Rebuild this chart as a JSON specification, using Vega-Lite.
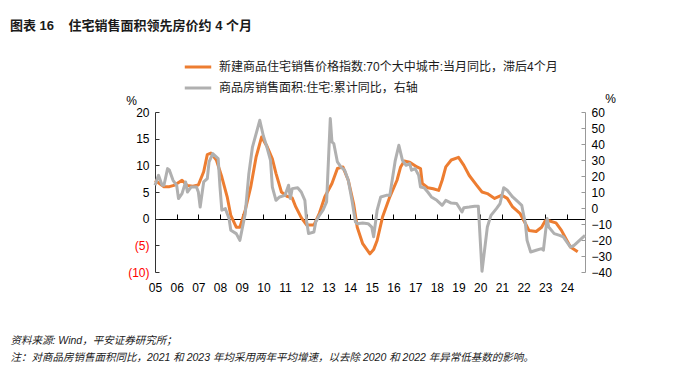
{
  "$schema": "https://vega.github.io/schema/vega-lite/v6.json",
  "width": 430,
  "height": 160,
  "autosize": "none",
  "padding": {"left": 155, "top": 112, "right": 115, "bottom": 108},
  "background": "white",
  "config": {
    "view": {"stroke": null},
    "font": "Liberation Sans, Noto Sans CJK SC",
    "axis": {"grid": false, "labelFont": "Liberation Sans, Noto Sans CJK SC", "labelFontSize": 12, "labelColor": "#000000", "titleFont": "Liberation Sans, Noto Sans CJK SC"},
    "legend": {"labelFont": "Liberation Sans, Noto Sans CJK SC"}
  },
  "title": {
    "text": "图表 16\u00a0\u00a0\u00a0 住宅销售面积领先房价约 4 个月",
    "anchor": "start",
    "frame": "group",
    "dx": -145,
    "offset": 13,
    "fontSize": 13,
    "fontWeight": "bold",
    "font": "Liberation Sans, Noto Sans CJK SC",
    "color": "#1a1a1a",
    "baseline": "middle"
  },
  "datasets": {
    "price": [
      {"date": "2005-01-01", "value": 7.2},
      {"date": "2005-06-01", "value": 6.0},
      {"date": "2005-09-01", "value": 6.0},
      {"date": "2005-12-01", "value": 6.3},
      {"date": "2006-04-01", "value": 7.2},
      {"date": "2006-07-01", "value": 6.2},
      {"date": "2006-10-01", "value": 6.1},
      {"date": "2007-01-01", "value": 6.3},
      {"date": "2007-04-01", "value": 8.8},
      {"date": "2007-06-01", "value": 12.0},
      {"date": "2007-08-01", "value": 12.3},
      {"date": "2007-11-01", "value": 11.0},
      {"date": "2008-02-01", "value": 7.8},
      {"date": "2008-05-01", "value": 4.1},
      {"date": "2008-07-01", "value": 0.6},
      {"date": "2008-10-01", "value": -1.6},
      {"date": "2008-12-01", "value": -1.6},
      {"date": "2009-03-01", "value": 1.6},
      {"date": "2009-06-01", "value": 5.9},
      {"date": "2009-09-01", "value": 11.6},
      {"date": "2009-12-01", "value": 15.3},
      {"date": "2010-03-01", "value": 13.6},
      {"date": "2010-06-01", "value": 11.2},
      {"date": "2010-08-01", "value": 8.5},
      {"date": "2010-11-01", "value": 5.0},
      {"date": "2011-02-01", "value": 4.2},
      {"date": "2011-05-01", "value": 3.9},
      {"date": "2011-07-01", "value": 2.2},
      {"date": "2011-10-01", "value": 0.2},
      {"date": "2012-01-01", "value": -1.2},
      {"date": "2012-05-01", "value": -1.2},
      {"date": "2012-08-01", "value": 1.0},
      {"date": "2012-11-01", "value": 4.1},
      {"date": "2013-03-01", "value": 6.6},
      {"date": "2013-06-01", "value": 9.4},
      {"date": "2013-09-01", "value": 9.7},
      {"date": "2013-12-01", "value": 7.2},
      {"date": "2014-03-01", "value": 2.8},
      {"date": "2014-05-01", "value": -1.6},
      {"date": "2014-08-01", "value": -4.7},
      {"date": "2014-12-01", "value": -6.6},
      {"date": "2015-02-01", "value": -5.8},
      {"date": "2015-04-01", "value": -4.1},
      {"date": "2015-07-01", "value": 0.3},
      {"date": "2015-11-01", "value": 4.1},
      {"date": "2016-03-01", "value": 7.2},
      {"date": "2016-05-01", "value": 9.7},
      {"date": "2016-07-01", "value": 10.8},
      {"date": "2016-10-01", "value": 10.6},
      {"date": "2017-02-01", "value": 9.7},
      {"date": "2017-04-01", "value": 9.4},
      {"date": "2017-05-01", "value": 6.6},
      {"date": "2017-08-01", "value": 5.8},
      {"date": "2017-11-01", "value": 5.6},
      {"date": "2018-02-01", "value": 5.3},
      {"date": "2018-04-01", "value": 7.2},
      {"date": "2018-06-01", "value": 9.7},
      {"date": "2018-09-01", "value": 11.0},
      {"date": "2019-01-01", "value": 11.5},
      {"date": "2019-04-01", "value": 10.0},
      {"date": "2019-07-01", "value": 8.1},
      {"date": "2019-11-01", "value": 6.3},
      {"date": "2020-02-01", "value": 5.0},
      {"date": "2020-05-01", "value": 4.7},
      {"date": "2020-09-01", "value": 3.8},
      {"date": "2021-01-01", "value": 4.4},
      {"date": "2021-04-01", "value": 3.8},
      {"date": "2021-07-01", "value": 2.2},
      {"date": "2021-11-01", "value": 1.0},
      {"date": "2022-02-01", "value": -0.9},
      {"date": "2022-04-01", "value": -2.2},
      {"date": "2022-08-01", "value": -2.4},
      {"date": "2022-11-01", "value": -1.6},
      {"date": "2023-01-01", "value": -0.4},
      {"date": "2023-03-01", "value": -0.4},
      {"date": "2023-07-01", "value": -0.8},
      {"date": "2023-10-01", "value": -2.2},
      {"date": "2024-01-01", "value": -4.1},
      {"date": "2024-03-01", "value": -5.3},
      {"date": "2024-07-01", "value": -6.2}
    ],
    "area": [
      {"date": "2005-01-01", "value": 14.2},
      {"date": "2005-03-01", "value": 20.4},
      {"date": "2005-05-01", "value": 14.2},
      {"date": "2005-06-01", "value": 14.2},
      {"date": "2005-08-01", "value": 24.6},
      {"date": "2005-09-01", "value": 23.6},
      {"date": "2005-11-01", "value": 17.3},
      {"date": "2006-01-01", "value": 14.2},
      {"date": "2006-02-01", "value": 5.9},
      {"date": "2006-04-01", "value": 9.0},
      {"date": "2006-06-01", "value": 16.3},
      {"date": "2006-07-01", "value": 10.0},
      {"date": "2006-09-01", "value": 13.1},
      {"date": "2006-12-01", "value": 13.1},
      {"date": "2007-01-01", "value": 10.0},
      {"date": "2007-02-01", "value": 0.6},
      {"date": "2007-04-01", "value": 16.3},
      {"date": "2007-06-01", "value": 18.4},
      {"date": "2007-07-01", "value": 28.8},
      {"date": "2007-09-01", "value": 34.0},
      {"date": "2007-12-01", "value": 30.9},
      {"date": "2008-01-01", "value": 13.1},
      {"date": "2008-02-01", "value": -1.4},
      {"date": "2008-04-01", "value": -0.4},
      {"date": "2008-06-01", "value": -6.6},
      {"date": "2008-07-01", "value": -13.9},
      {"date": "2008-10-01", "value": -16.0},
      {"date": "2008-12-01", "value": -20.2},
      {"date": "2009-03-01", "value": -3.5},
      {"date": "2009-05-01", "value": 21.5},
      {"date": "2009-07-01", "value": 38.1},
      {"date": "2009-09-01", "value": 46.5},
      {"date": "2009-11-01", "value": 54.8},
      {"date": "2010-01-01", "value": 45.0},
      {"date": "2010-03-01", "value": 38.1},
      {"date": "2010-05-01", "value": 29.8},
      {"date": "2010-06-01", "value": 13.1},
      {"date": "2010-08-01", "value": 4.8},
      {"date": "2010-10-01", "value": 6.9},
      {"date": "2011-01-01", "value": 7.9},
      {"date": "2011-03-01", "value": 14.2},
      {"date": "2011-04-01", "value": 5.9},
      {"date": "2011-05-01", "value": 12.1},
      {"date": "2011-08-01", "value": 12.7},
      {"date": "2011-10-01", "value": 10.0},
      {"date": "2011-12-01", "value": 4.8},
      {"date": "2012-01-01", "value": -8.7},
      {"date": "2012-02-01", "value": -16.0},
      {"date": "2012-05-01", "value": -15.0},
      {"date": "2012-06-01", "value": -8.7},
      {"date": "2012-08-01", "value": -4.6},
      {"date": "2012-10-01", "value": -1.4},
      {"date": "2012-12-01", "value": 3.8},
      {"date": "2013-02-01", "value": 55.9},
      {"date": "2013-03-01", "value": 41.3},
      {"date": "2013-04-01", "value": 40.3},
      {"date": "2013-06-01", "value": 28.8},
      {"date": "2013-08-01", "value": 25.6},
      {"date": "2013-10-01", "value": 23.6},
      {"date": "2013-12-01", "value": 17.3},
      {"date": "2014-02-01", "value": 4.8},
      {"date": "2014-04-01", "value": -8.7},
      {"date": "2014-05-01", "value": -9.8},
      {"date": "2014-08-01", "value": -9.4},
      {"date": "2014-11-01", "value": -9.8},
      {"date": "2015-01-01", "value": -12.0},
      {"date": "2015-02-01", "value": -18.0},
      {"date": "2015-04-01", "value": -1.4},
      {"date": "2015-06-01", "value": 6.9},
      {"date": "2015-09-01", "value": 7.9},
      {"date": "2015-11-01", "value": 7.9},
      {"date": "2016-02-01", "value": 29.8},
      {"date": "2016-04-01", "value": 39.2},
      {"date": "2016-06-01", "value": 29.8},
      {"date": "2016-08-01", "value": 26.7},
      {"date": "2016-10-01", "value": 27.7},
      {"date": "2016-11-01", "value": 23.6},
      {"date": "2017-01-01", "value": 24.6},
      {"date": "2017-03-01", "value": 20.4},
      {"date": "2017-04-01", "value": 13.1},
      {"date": "2017-06-01", "value": 12.7},
      {"date": "2017-08-01", "value": 10.0},
      {"date": "2017-10-01", "value": 6.9},
      {"date": "2018-01-01", "value": 4.8},
      {"date": "2018-04-01", "value": 1.7},
      {"date": "2018-06-01", "value": 4.8},
      {"date": "2018-09-01", "value": 3.1},
      {"date": "2018-12-01", "value": 2.8},
      {"date": "2019-03-01", "value": -2.5},
      {"date": "2019-04-01", "value": 0.2},
      {"date": "2019-07-01", "value": 0.6},
      {"date": "2019-10-01", "value": 1.1},
      {"date": "2019-12-01", "value": 1.1},
      {"date": "2020-02-01", "value": -39.5},
      {"date": "2020-05-01", "value": -11.9},
      {"date": "2020-07-01", "value": -4.6},
      {"date": "2020-10-01", "value": -0.4},
      {"date": "2020-12-01", "value": 2.8},
      {"date": "2021-02-01", "value": 12.7},
      {"date": "2021-04-01", "value": 11.1},
      {"date": "2021-07-01", "value": 6.9},
      {"date": "2021-10-01", "value": 3.8},
      {"date": "2021-12-01", "value": 1.7},
      {"date": "2022-02-01", "value": -9.8},
      {"date": "2022-03-01", "value": -20.2},
      {"date": "2022-05-01", "value": -27.5},
      {"date": "2022-08-01", "value": -26.4},
      {"date": "2022-11-01", "value": -25.4},
      {"date": "2022-12-01", "value": -26.4},
      {"date": "2023-02-01", "value": -6.6},
      {"date": "2023-03-01", "value": -11.9},
      {"date": "2023-06-01", "value": -16.0},
      {"date": "2023-09-01", "value": -17.1},
      {"date": "2023-11-01", "value": -18.1},
      {"date": "2024-03-01", "value": -24.4},
      {"date": "2024-05-01", "value": -23.3},
      {"date": "2024-08-01", "value": -20.2},
      {"date": "2024-11-01", "value": -17.1}
    ]
  },
  "layer": [
    {
      "data": {"name": "price"},
      "mark": {"type": "line", "strokeWidth": 3, "strokeJoin": "round"},
      "encoding": {
        "x": {
          "field": "date", "type": "temporal",
          "scale": {"domain": ["2005-01-01", "2024-11-01"]},
          "axis": {
            "orient": "bottom",
            "format": "%y", "tickCount": {"interval": "year", "step": 1},
            "domain": false, "ticks": false, "labelPadding": 10, "labelFlush": false,
            "title": ["资料来源: Wind，平安证券研究所；", "注：对商品房销售面积同比，2021 和 2023 年均采用两年平均增速，以去除 2020 和 2022 年异常低基数的影响。"],
            "titleAnchor": "start", "titleAlign": "left", "titleBaseline": "top",
            "titleX": -145, "titleY": 63, "titleFontSize": 10.5, "titleFontWeight": "normal",
            "titleFontStyle": "italic", "titleColor": "#1a1a1a", "titleLineHeight": 17
          }
        },
        "y": {
          "field": "value", "type": "quantitative",
          "scale": {"domain": [-10, 20], "nice": false},
          "axis": {
            "values": [-10, -5, 0, 5, 10, 15, 20],
            "labelExpr": "datum.value < 0 ? '(' + (-datum.value) + ')' : datum.label",
            "labelColor": {"condition": {"test": "datum.value < 0", "value": "#FF0000"}, "value": "#000000"},
            "domain": true, "domainWidth": 1, "domainOpacity": 1,
            "domainColor": "#333333", "tickColor": "#333333", "tickSize": -4, "labelPadding": 10,
            "title": "%", "titleAngle": 0, "titleX": -24, "titleY": -12, "titleAlign": "center",
            "titleBaseline": "middle", "titleFontSize": 12, "titleFontWeight": "normal", "titleColor": "#000000"
          }
        },
        "color": {
          "datum": "新建商品住宅销售价格指数:70个大中城市:当月同比，滞后4个月",
          "scale": {
            "domain": ["新建商品住宅销售价格指数:70个大中城市:当月同比，滞后4个月", "商品房销售面积:住宅:累计同比，右轴"],
            "range": ["#ED7D31", "#B0B0B0"]
          },
          "legend": {
            "title": null, "orient": "none", "legendX": 28, "legendY": -60,
            "symbolType": "stroke", "symbolSize": 700, "symbolStrokeWidth": 3,
            "labelFontSize": 12, "labelColor": "#1a1a1a", "rowPadding": 0, "labelOffset": 6, "labelLimit": 600
          }
        }
      }
    },
    {
      "data": {"name": "area"},
      "mark": {"type": "line", "strokeWidth": 3, "strokeJoin": "round"},
      "encoding": {
        "x": {
          "field": "date", "type": "temporal",
          "axis": {
            "orient": "top",
            "tickCount": {"interval": "year", "step": 1}, "labels": false, "title": null,
            "offset": -107, "domainColor": "#000000", "tickColor": "#000000", "tickSize": 5
          }
        },
        "y": {
          "field": "value", "type": "quantitative",
          "scale": {"domain": [-40, 60], "nice": false},
          "axis": {
            "orient": "right", "values": [-40, -30, -20, -10, 0, 10, 20, 30, 40, 50, 60],
            "domain": true, "domainWidth": 1, "domainOpacity": 1,
            "domainColor": "#999999", "tickColor": "#999999", "tickSize": -4, "labelPadding": 10,
            "title": "%", "titleAngle": 0, "titleX": 25, "titleY": -14, "titleAlign": "center",
            "titleBaseline": "middle", "titleFontSize": 12, "titleFontWeight": "normal", "titleColor": "#000000"
          }
        },
        "color": {"datum": "商品房销售面积:住宅:累计同比，右轴"}
      }
    }
  ],
  "resolve": {"scale": {"y": "independent"}, "axis": {"x": "independent"}}
}
